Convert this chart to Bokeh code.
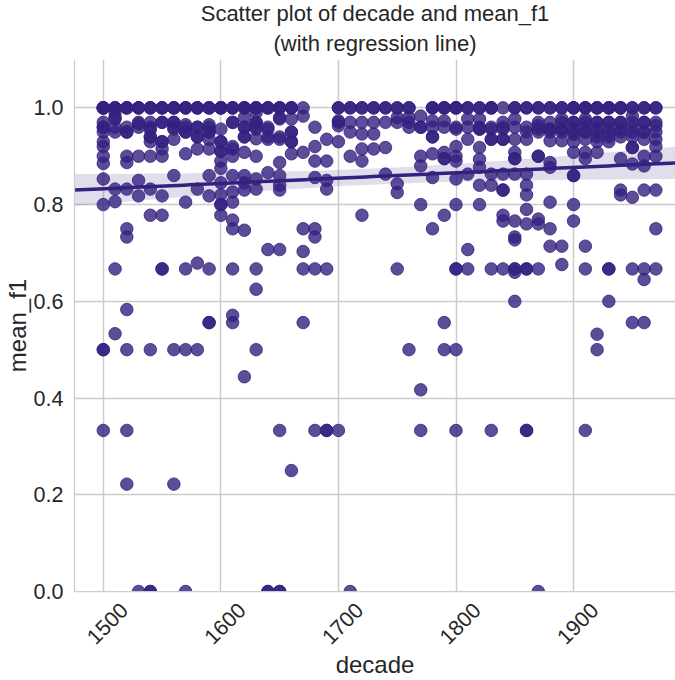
import numpy as np
from bokeh.plotting import figure
from bokeh.models import (Range1d, FixedTicker, PrintfTickFormatter, LinearAxis,
                          ColumnDataSource, Title)
from bokeh.embed import file_html
from bokeh.resources import INLINE

# mean_f1 values per decade
d1500 = [1.0, 1.0, 1.0, 1.0, 1.0, 0.97, 0.96, 0.96, 0.95, 0.93, 0.92, 0.9, 0.885, 0.853, 0.8, 0.5, 0.5, 0.333]
d1510 = [1.0, 1.0, 1.0, 0.99, 0.98, 0.977, 0.96, 0.95, 0.832, 0.806, 0.667, 0.533]
d1520 = [1.0, 1.0, 1.0, 0.96, 0.95, 0.95, 0.9, 0.887, 0.832, 0.75, 0.733, 0.583, 0.5, 0.333, 0.222]
d1530 = [1.0, 1.0, 1.0, 0.97, 0.967, 0.96, 0.9, 0.85, 0.818, 0.0]
d1540 = [1.0, 1.0, 1.0, 0.97, 0.96, 0.955, 0.94, 0.94, 0.93, 0.9, 0.832, 0.778, 0.5, 0.0, 0.0]
d1550 = [1.0, 1.0, 1.0, 0.97, 0.97, 0.93, 0.93, 0.915, 0.9, 0.818, 0.778, 0.667, 0.667]
d1560 = [1.0, 1.0, 1.0, 0.97, 0.97, 0.96, 0.956, 0.935, 0.86, 0.5, 0.222]
d1570 = [1.0, 1.0, 1.0, 0.965, 0.96, 0.95, 0.95, 0.905, 0.805, 0.667, 0.5, 0.0]
d1580 = [1.0, 1.0, 1.0, 0.96, 0.96, 0.94, 0.94, 0.915, 0.832, 0.679, 0.5]
d1590 = [1.0, 1.0, 1.0, 0.965, 0.96, 0.95, 0.95, 0.935, 0.915, 0.86, 0.818, 0.667, 0.556, 0.556]
d1600 = [1.0, 1.0, 1.0, 1.0, 0.956, 0.93, 0.93, 0.91, 0.91, 0.89, 0.875, 0.845, 0.82, 0.8, 0.8, 0.778]
d1610 = [1.0, 1.0, 1.0, 0.97, 0.97, 0.92, 0.915, 0.9, 0.86, 0.826, 0.805, 0.768, 0.75, 0.667, 0.571, 0.556]
d1620 = [1.0, 1.0, 1.0, 1.0, 0.98, 0.96, 0.96, 0.94, 0.94, 0.908, 0.86, 0.845, 0.83, 0.747, 0.444]
d1630 = [1.0, 1.0, 1.0, 0.99, 0.97, 0.97, 0.96, 0.956, 0.936, 0.9, 0.853, 0.832, 0.667, 0.625, 0.5]
d1640 = [1.0, 1.0, 1.0, 0.96, 0.956, 0.94, 0.935, 0.866, 0.707, 0.0, 0.0]
d1650 = [1.0, 1.0, 1.0, 0.98, 0.977, 0.94, 0.935, 0.887, 0.86, 0.84, 0.83, 0.707, 0.333, 0.0, 0.0]
d1660 = [1.0, 1.0, 1.0, 0.977, 0.95, 0.95, 0.93, 0.93, 0.905, 0.25]
d1670 = [1.0, 0.983, 0.908, 0.75, 0.703, 0.667, 0.556]
d1680 = [0.96, 0.92, 0.89, 0.856, 0.75, 0.733, 0.667, 0.333]
d1690 = [0.935, 0.89, 0.85, 0.832, 0.667, 0.333, 0.333]
d1700 = [1.0, 1.0, 0.973, 0.97, 0.963, 0.93, 0.333]
d1710 = [1.0, 1.0, 0.97, 0.95, 0.9, 0.0]
d1720 = [1.0, 1.0, 0.97, 0.946, 0.915, 0.89, 0.778]
d1730 = [1.0, 1.0, 0.97, 0.946, 0.915]
d1740 = [1.0, 1.0, 0.97, 0.918, 0.863]
d1750 = [1.0, 1.0, 0.98, 0.97, 0.843, 0.825, 0.667]
d1760 = [1.0, 1.0, 0.98, 0.97, 0.96, 0.5]
d1770 = [0.983, 0.96, 0.96, 0.9, 0.88, 0.8, 0.417, 0.333]
d1780 = [1.0, 1.0, 1.0, 0.973, 0.96, 0.94, 0.94, 0.905, 0.856, 0.75]
d1790 = [1.0, 1.0, 1.0, 0.973, 0.96, 0.908, 0.895, 0.895, 0.778, 0.556, 0.5]
d1800 = [1.0, 1.0, 1.0, 0.96, 0.956, 0.92, 0.9, 0.89, 0.853, 0.8, 0.667, 0.667, 0.5, 0.333]
d1810 = [1.0, 1.0, 0.977, 0.96, 0.935, 0.863, 0.707, 0.667]
d1820 = [1.0, 1.0, 0.977, 0.96, 0.956, 0.956, 0.918, 0.894, 0.877, 0.84, 0.8]
d1830 = [1.0, 1.0, 1.0, 0.96, 0.956, 0.935, 0.935, 0.863, 0.84, 0.667, 0.333]
d1840 = [1.0, 0.97, 0.96, 0.956, 0.935, 0.935, 0.863, 0.83, 0.83, 0.778, 0.766, 0.667]
d1850 = [1.0, 1.0, 0.977, 0.96, 0.935, 0.908, 0.895, 0.895, 0.863, 0.766, 0.733, 0.727, 0.667, 0.667, 0.66, 0.6]
d1860 = [1.0, 1.0, 0.96, 0.95, 0.935, 0.863, 0.84, 0.82, 0.79, 0.76, 0.667, 0.667, 0.333, 0.333]
d1870 = [1.0, 1.0, 0.97, 0.963, 0.956, 0.95, 0.9, 0.9, 0.77, 0.76, 0.667, 0.0]
d1880 = [1.0, 1.0, 0.97, 0.956, 0.956, 0.95, 0.932, 0.887, 0.877, 0.805, 0.75, 0.714]
d1890 = [1.0, 1.0, 0.977, 0.97, 0.956, 0.956, 0.95, 0.932, 0.714, 0.676]
d1900 = [1.0, 1.0, 1.0, 0.97, 0.97, 0.956, 0.95, 0.945, 0.93, 0.908, 0.86, 0.86, 0.8, 0.766]
d1910 = [1.0, 1.0, 1.0, 0.977, 0.97, 0.96, 0.95, 0.95, 0.935, 0.908, 0.895, 0.714, 0.667, 0.333]
d1920 = [1.0, 1.0, 1.0, 0.97, 0.97, 0.956, 0.95, 0.94, 0.93, 0.908, 0.532, 0.5]
d1930 = [1.0, 1.0, 1.0, 0.97, 0.97, 0.956, 0.95, 0.94, 0.93, 0.667, 0.667, 0.6]
d1940 = [1.0, 1.0, 1.0, 0.97, 0.97, 0.956, 0.95, 0.94, 0.895, 0.83, 0.82]
d1950 = [1.0, 1.0, 0.983, 0.97, 0.96, 0.95, 0.94, 0.918, 0.918, 0.884, 0.815, 0.667, 0.556]
d1960 = [1.0, 1.0, 0.97, 0.97, 0.95, 0.95, 0.935, 0.9, 0.88, 0.83, 0.667, 0.645, 0.556]
d1970 = [1.0, 1.0, 0.97, 0.963, 0.95, 0.935, 0.92, 0.9, 0.83, 0.75, 0.667]

decades = [1500, 1510, 1520, 1530, 1540, 1550, 1560, 1570, 1580, 1590,
           1600, 1610, 1620, 1630, 1640, 1650, 1660, 1670, 1680, 1690,
           1700, 1710, 1720, 1730, 1740, 1750, 1760, 1770, 1780, 1790,
           1800, 1810, 1820, 1830, 1840, 1850, 1860, 1870, 1880, 1890,
           1900, 1910, 1920, 1930, 1940, 1950, 1960, 1970]
per_decade = [d1500, d1510, d1520, d1530, d1540, d1550, d1560, d1570, d1580, d1590,
              d1600, d1610, d1620, d1630, d1640, d1650, d1660, d1670, d1680, d1690,
              d1700, d1710, d1720, d1730, d1740, d1750, d1760, d1770, d1780, d1790,
              d1800, d1810, d1820, d1830, d1840, d1850, d1860, d1870, d1880, d1890,
              d1900, d1910, d1920, d1930, d1940, d1950, d1960, d1970]

x_ticks = [1500, 1600, 1700, 1800, 1900]
y_ticks = [0.0, 0.2, 0.4, 0.6, 0.8, 1.0]

xs = np.array([d for d, vals in zip(decades, per_decade) for _ in vals], dtype=float)
ys = np.array([v for vals in per_decade for v in vals], dtype=float)

X_LO, X_HI = 1475.5, 1986.7
FRAME_W = 602

# ordinary least squares fit with a 95% confidence band
slope, intercept = np.polyfit(xs, ys, 1)
n = len(xs)
resid = ys - (slope * xs + intercept)
s = np.sqrt(np.sum(resid ** 2) / (n - 2))
x_mean = xs.mean()
sxx = np.sum((xs - x_mean) ** 2)
grid_x = np.linspace(X_LO, X_HI, 100)
fit_y = slope * grid_x + intercept
half = 1.965 * s * np.sqrt(1.0 / n + (grid_x - x_mean) ** 2 / sxx)

COLOR = "#34207f"
TEXT = "#262626"
GRID = "#cccccc"
FONT = "Liberation Sans"

p = figure(width=675, height=680, output_backend="svg", toolbar_location=None,
           x_range=Range1d(X_LO, X_HI), y_range=Range1d(0.0, 1.1),
           min_border_left=73, min_border_right=0, min_border_top=58,
           min_border_bottom=88, title=None)
p.outline_line_color = None
p.background_fill_color = "white"

# two centred title lines; the later one sits farther from the frame
for line, standoff in (("(with regression line)", 8), ("Scatter plot of decade and mean_f1", -3)):
    p.add_layout(Title(text=line, align="center", text_font=FONT,
                       text_font_size="22px", text_font_style="normal",
                       text_color=TEXT, standoff=standoff), "above")

band = ColumnDataSource(dict(x=grid_x, lo=fit_y - half, hi=fit_y + half, y=fit_y))
p.varea(x="x", y1="lo", y2="hi", source=band, fill_color=COLOR, fill_alpha=0.15)

p.scatter(xs, ys, size=12.5, fill_color=COLOR, fill_alpha=0.8,
          line_color=COLOR, line_alpha=0.8, line_width=1)

p.line(x="x", y="y", source=band, line_color=COLOR, line_width=3.5)

# the rotated decade labels are centred under their ticks: the axis that
# carries them uses a range shifted by a fixed number of pixels
label_shift_px = 21
shift = label_shift_px * (X_HI - X_LO) / FRAME_W
p.extra_x_ranges = {"labels": Range1d(X_LO - shift, X_HI - shift)}
p.xaxis.visible = False
x_axis = LinearAxis(x_range_name="labels", ticker=FixedTicker(ticks=x_ticks))
p.add_layout(x_axis, "below")
p.xgrid.ticker = FixedTicker(ticks=x_ticks)

y_axis = p.yaxis[0]
for ax in (x_axis, y_axis):
    ax.axis_line_color = GRID
    ax.axis_line_width = 1.25
    ax.major_tick_line_color = None
    ax.minor_tick_line_color = None
    ax.major_label_text_font = FONT
    ax.major_label_text_font_size = "21.5px"
    ax.major_label_text_color = TEXT
    ax.axis_label_text_font = FONT
    ax.axis_label_text_font_size = "24px"
    ax.axis_label_text_font_style = "normal"
    ax.axis_label_text_color = TEXT

y_axis.ticker = FixedTicker(ticks=y_ticks)
y_axis.formatter = PrintfTickFormatter(format="%.1f")
y_axis.axis_label = "mean_f1"
y_axis.major_label_standoff = 5
y_axis.axis_label_standoff = 0

x_axis.axis_label = "decade"
x_axis.major_label_orientation = np.pi / 4
x_axis.major_label_standoff = 9
x_axis.axis_label_standoff = -3

p.xgrid.grid_line_color = GRID
p.ygrid.grid_line_color = GRID
p.xgrid.grid_line_width = 1.5
p.ygrid.grid_line_width = 1.5

open("out.html", "w").write(file_html(p, INLINE))
